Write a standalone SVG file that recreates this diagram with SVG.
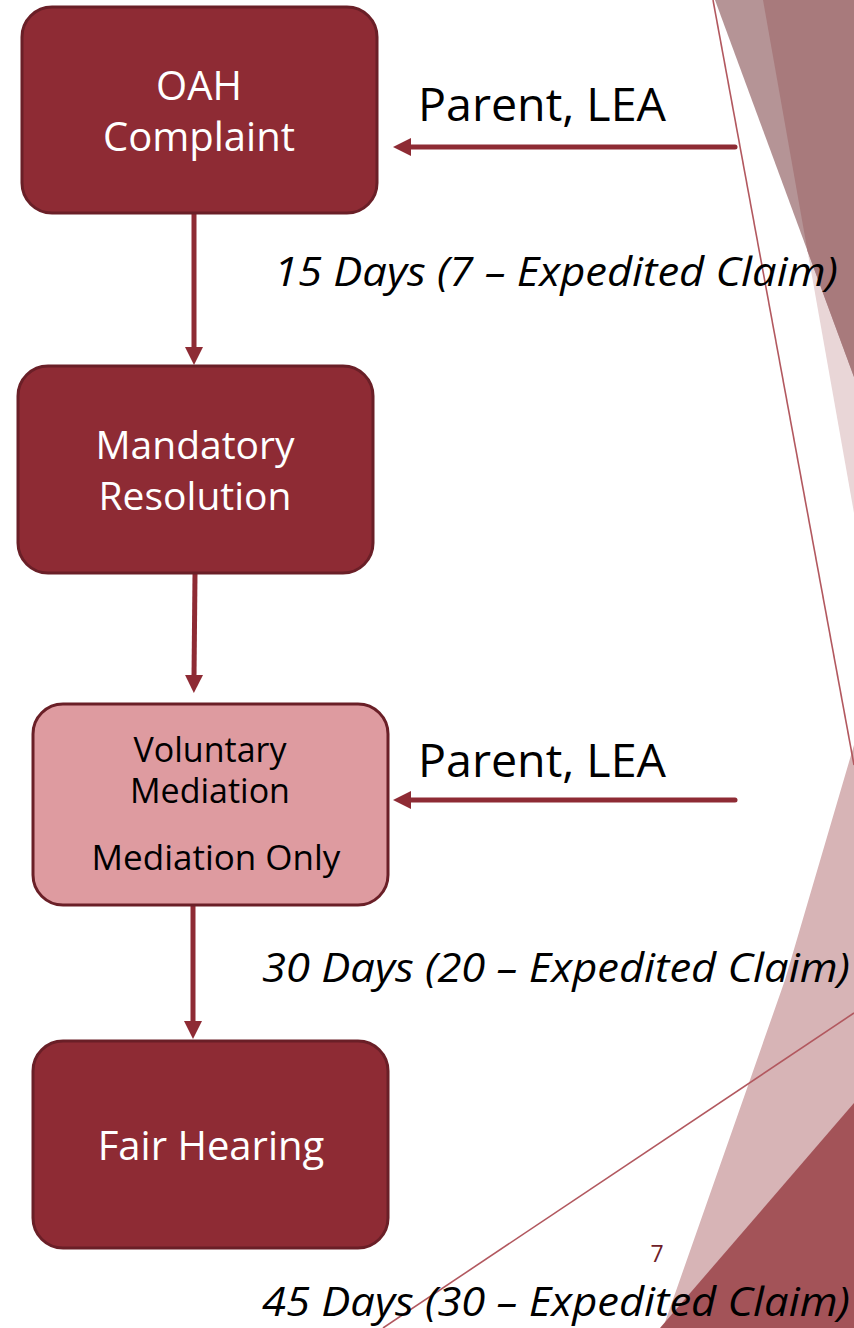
<svg xmlns="http://www.w3.org/2000/svg" width="854" height="1328" viewBox="0 0 854 1328">
<style>
.box{fill:#8E2B34;stroke:#6A1F27;stroke-width:3}
.boxlight{fill:#DE9BA0;stroke:#6A1F27;stroke-width:3}
.wt{font-family:"Open Sans","DejaVu Sans",sans-serif;fill:#FFFFFF;text-anchor:middle}
.bt{font-family:"Open Sans","DejaVu Sans",sans-serif;fill:#000000;text-anchor:middle}
.lbl{font-family:"Open Sans","DejaVu Sans",sans-serif;fill:#000000;font-size:46px}
.it{font-family:"Open Sans","DejaVu Sans",sans-serif;fill:#000000;font-style:italic;font-size:40px}
.conn{stroke:#8E2B34;stroke-width:5;fill:none}
.deco{stroke:#B2585F;stroke-width:1.6;fill:none}
</style>
<defs>
<marker id="ah" markerUnits="userSpaceOnUse" markerWidth="20" markerHeight="20" viewBox="0 0 20 20" refX="2" refY="10" orient="auto">
<path d="M0,1 L18,10 L0,19 z" fill="#8E2B34"/>
</marker>
</defs>
<rect width="854" height="1328" fill="#FFFFFF"/>
<g id="background">
<polygon points="763,0 854,0 854,513" fill="#E9D6D7"/>
<polygon points="715,0 854,0 854,377" fill="#B59496"/>
<polygon points="763,0 854,0 854,377 807.5,251" fill="#A87A7C"/>
<polygon points="854,745 785,980 663,1328 854,1328" fill="#D7B4B6"/>
<polygon points="854,1103 854,1328 660,1328" fill="#A35358"/>
<line class="deco" x1="713" y1="0" x2="854" y2="765"/>
<line class="deco" x1="854" y1="1013" x2="383" y2="1328"/>
<text x="657" y="1262" font-family="Open Sans, DejaVu Sans, sans-serif" font-size="23" fill="#6E2028" text-anchor="middle">7</text>
</g>
<g id="connectors">
<line class="conn" x1="194" y1="213" x2="194" y2="349" marker-end="url(#ah)"/>
<line class="conn" x1="195" y1="574" x2="194" y2="677" marker-end="url(#ah)"/>
<line class="conn" x1="193" y1="905" x2="193" y2="1023" marker-end="url(#ah)"/>
<line class="conn" x1="735" y1="147" x2="409" y2="147" stroke-linecap="round" marker-end="url(#ah)"/>
<line class="conn" x1="735" y1="800" x2="409" y2="800" stroke-linecap="round" marker-end="url(#ah)"/>
<text class="lbl" x="418" y="121" textLength="248" lengthAdjust="spacingAndGlyphs">Parent, LEA</text>
<text class="lbl" x="418" y="777" textLength="248" lengthAdjust="spacingAndGlyphs">Parent, LEA</text>
<text class="it" x="274" y="286" textLength="564" lengthAdjust="spacingAndGlyphs">15 Days (7 – Expedited Claim)</text>
<text class="it" x="262" y="982" textLength="588" lengthAdjust="spacingAndGlyphs">30 Days (20 – Expedited Claim)</text>
<text class="it" x="262" y="1316" textLength="588" lengthAdjust="spacingAndGlyphs">45 Days (30 – Expedited Claim)</text>
</g>
<g id="node-oah">
<rect class="box" x="22" y="7" width="355" height="206" rx="30"/>
<text class="wt" font-size="40" x="199" y="100">OAH</text>
<text class="wt" font-size="40" x="199" y="151">Complaint</text>
</g>
<g id="node-resolution">
<rect class="box" x="18" y="366" width="355" height="207" rx="30"/>
<text class="wt" font-size="39" x="195" y="459">Mandatory</text>
<text class="wt" font-size="39" x="195" y="510">Resolution</text>
</g>
<g id="node-mediation">
<rect class="boxlight" x="33" y="704" width="355" height="201" rx="30"/>
<text class="bt" font-size="34" x="210" y="762">Voluntary</text>
<text class="bt" font-size="34" x="210" y="803">Mediation</text>
<text class="bt" font-size="35" x="216" y="870">Mediation Only</text>
</g>
<g id="node-hearing">
<rect class="box" x="33" y="1041" width="355" height="207" rx="30"/>
<text class="wt" font-size="40" x="211" y="1160">Fair Hearing</text>
</g>
</svg>
